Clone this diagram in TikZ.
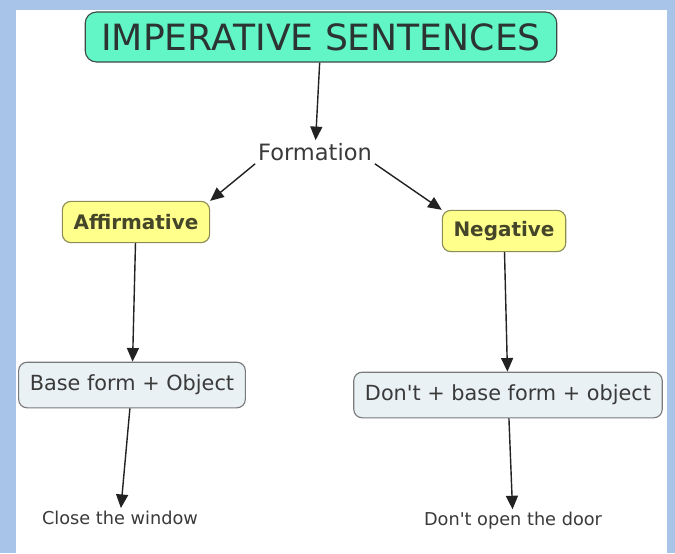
\documentclass[tikz,border=0pt]{standalone}
\usepackage{fontspec}
\setmainfont{DejaVu Sans}
\usetikzlibrary{arrows.meta, positioning}
\usepackage{xcolor}
\definecolor{frameblue}{HTML}{A8C4E8}
\definecolor{titlegreen}{HTML}{62F5C6}
\definecolor{titleline}{HTML}{3E4A45}
\definecolor{formyellow}{HTML}{FFFF8C}
\definecolor{formline}{HTML}{8C8C55}
\definecolor{formtext}{HTML}{45452A}
\definecolor{rulefill}{HTML}{E9F1F5}
\definecolor{ruleline}{HTML}{7A7A7A}
\definecolor{textgrey}{HTML}{3A3A3A}
\definecolor{arrowgrey}{HTML}{222222}
\tikzset{
  titlebox/.style={rectangle, draw=titleline, fill=titlegreen, thick,
                   rounded corners=8pt, inner xsep=0.4cm, minimum height=1.25cm,
                   align=center, text=titleline!70!black, font=\fontsize{25.7}{28}\selectfont},
  plainlabel/.style={inner sep=2pt, text=textgrey, font=\fontsize{16}{18}\selectfont},
  formbox/.style={rectangle, draw=formline, fill=formyellow, thick,
                  rounded corners=6pt, inner xsep=0.28cm, minimum height=1.03cm,
                  text=formtext, font=\fontsize{14.2}{16}\selectfont\bfseries},
  rulebox/.style={rectangle, draw=ruleline, fill=rulefill, thick,
                  rounded corners=6pt, inner xsep=0.28cm, minimum height=1.14cm,
                  text=textgrey, font=\fontsize{14.8}{17}\selectfont},
  examplelabel/.style={inner sep=2pt, text=textgrey, font=\fontsize{12.6}{14}\selectfont},
  link/.style={-{Triangle[length=3.4mm,width=3mm]}, line width=1pt, draw=arrowgrey},
}
\begin{document}
\begin{tikzpicture}[x=0.025cm, y=-0.025cm]
  % --- frame ---
  \fill[frameblue] (0,0) rectangle (675,553);
  \fill[white] (16,10) rectangle (667,553);
  \useasboundingbox (0,0) rectangle (675,553);

  % --- nodes ---
  \node[titlebox]     (title)     at (321, 37)  {IMPERATIVE SENTENCES};
  \node[plainlabel]   (formation) at (315, 152) {Formation};
  \node[formbox]      (affirm)    at (136, 222) {Affirmative};
  \node[formbox]      (negat)     at (504, 231) {Negative};
  \node[rulebox]      (affrule)   at (132, 385) {Base form + Object};
  \node[rulebox]      (negrule)   at (508, 395) {Don\textquotesingle t + base form + object};
  \node[examplelabel] (affex)     at (120, 518) {Close the window};
  \node[examplelabel] (negex)     at (513, 521) {Don\textquotesingle t open the door};

  % --- connectors ---
  \draw[link] (title) -- (formation);
  \draw[link] (formation.south west) -- (affirm.north east);
  \draw[link] (formation.south east) -- (negat.north west);
  \draw[link] (affirm) -- (affrule);
  \draw[link] (negat) -- (negrule);
  \draw[link] (affrule) -- (affex);
  \draw[link] (negrule) -- (negex);
\end{tikzpicture}
\end{document}
